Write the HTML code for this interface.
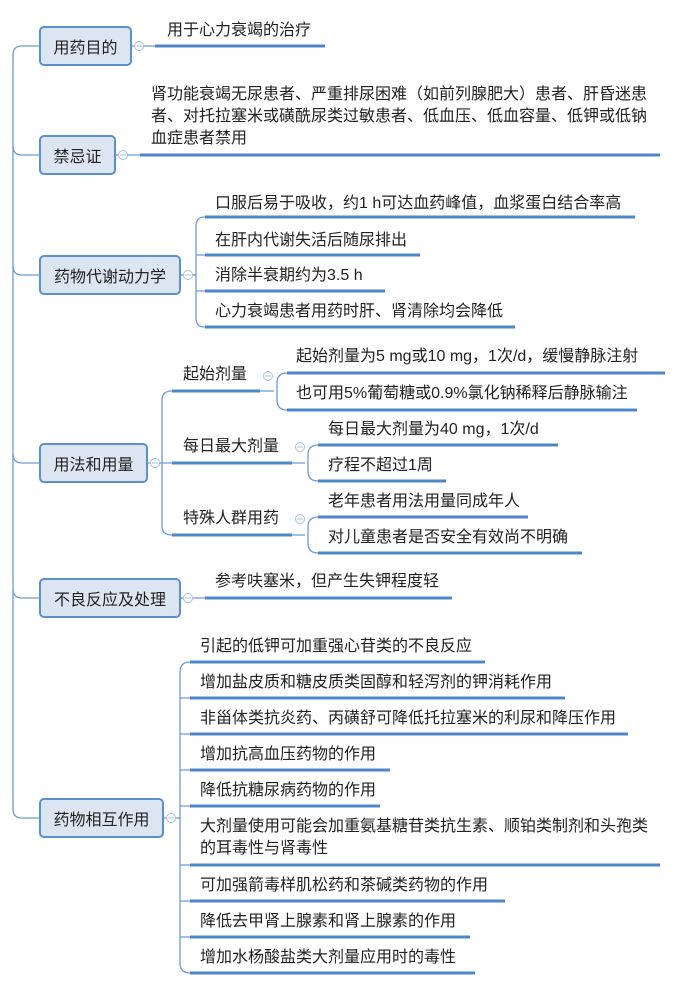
<!DOCTYPE html><html><head><meta charset="utf-8"><style>
body{margin:0;width:680px;height:990px;background:#fff;position:relative;overflow:hidden;font-family:"Liberation Sans","Noto Sans CJK SC",sans-serif;font-size:16px;color:#222}
.b{position:absolute;box-sizing:border-box;background:#dce6f2;border:2px solid #5b8fd0;border-radius:5px;display:flex;align-items:center;justify-content:center;font-size:16px;color:#222}
.t{position:absolute;white-space:nowrap;line-height:22px}
svg{position:absolute;left:0;top:0}
</style></head><body>
<svg width="680" height="990" fill="none">
<g stroke="#6e9bd6" stroke-width="1.3">
<path d="M39 46H22Q13 46 13 55V809Q13 818 22 818H39"/>
<path d="M13 146Q13 155 22 155H39M13 266Q13 275 22 275H39M13 454Q13 463 22 463H39M13 589Q13 598 22 598H39"/>
<path d="M132 46H155M116 155H140M181 275H196M148 463H162M181 598H205M164 818H180"/>
<path d="M205 217Q196 217 196 226V318Q196 327 205 327M196 255H205M196 291H205M196 275H190"/>
<path d="M172 391Q162 391 162 400V526Q162 535 172 535M162 463H172"/>
<path d="M260 391H274M287 373Q277 373 277 383V400Q277 410 287 410"/>
<path d="M292 463H305M318 445Q308 445 308 455V471Q308 481 318 481"/>
<path d="M292 535H305M318 517Q308 517 308 527V543Q308 553 318 553"/>
<path d="M190 662Q180 662 180 672V963Q180 973 190 973M180 698H190M180 734H190M180 770H190M180 806H190M180 865H190M180 901H190M180 937H190"/>
</g>
<g stroke="#4f86c6" stroke-width="3">
<path d="M155 46H325M140 155H660M205 217H635M205 255H420M205 291H385M205 327H515"/>
<path d="M172 391H260M172 463H292M172 535H292M287 373H665M287 410H637M318 445H558M318 481H446M318 517H528M318 553H582"/>
<path d="M205 598H452M190 662H485M190 698H565M190 734H628M190 770H390M190 806H380M190 865H660M190 901H505M190 937H470M190 973H475"/>
</g>
<g stroke="#a8c0e4" stroke-width="1" fill="#fff">
<circle cx="139" cy="46" r="4.5"/><circle cx="123" cy="155" r="4.5"/><circle cx="188" cy="275" r="4.5"/><circle cx="155" cy="463" r="4.5"/><circle cx="188" cy="598" r="4.5"/><circle cx="171" cy="818" r="4.5"/>
<circle cx="268" cy="376" r="4.5"/><circle cx="300" cy="447" r="4.5"/><circle cx="300" cy="519" r="4.5"/>
</g>
<g stroke="#a8c0e4" stroke-width="1">
<path d="M136 46h6M120 155h6M185 275h6M152 463h6M185 598h6M168 818h6M265 376h6M297 447h6M297 519h6"/>
</g>
</svg>
<div class="b" style="left:39px;top:26px;width:93px;height:40px">用药目的</div>
<div class="b" style="left:39px;top:135px;width:77px;height:40px">禁忌证</div>
<div class="b" style="left:39px;top:255px;width:142px;height:40px">药物代谢动力学</div>
<div class="b" style="left:39px;top:443px;width:109px;height:40px">用法和用量</div>
<div class="b" style="left:39px;top:578px;width:142px;height:40px">不良反应及处理</div>
<div class="b" style="left:39px;top:798px;width:125px;height:40px">药物相互作用</div>
<div class="t" style="left:167px;top:20px">用于心力衰竭的治疗</div>
<div class="t" style="left:151px;top:84px">肾功能衰竭无尿患者、严重排尿困难（如前列腺肥大）患者、肝昏迷患<br>者、对托拉塞米或磺酰尿类过敏患者、低血压、低血容量、低钾或低钠<br>血症患者禁用</div>
<div class="t" style="left:215px;top:193px">口服后易于吸收，约1 h可达血药峰值，血浆蛋白结合率高</div>
<div class="t" style="left:215px;top:230px">在肝内代谢失活后随尿排出</div>
<div class="t" style="left:215px;top:265px">消除半衰期约为3.5 h</div>
<div class="t" style="left:215px;top:301px">心力衰竭患者用药时肝、肾清除均会降低</div>
<div class="t" style="left:183px;top:364px">起始剂量</div>
<div class="t" style="left:183px;top:436px">每日最大剂量</div>
<div class="t" style="left:183px;top:508px">特殊人群用药</div>
<div class="t" style="left:296px;top:346px">起始剂量为5 mg或10 mg，1次/d，缓慢静脉注射</div>
<div class="t" style="left:296px;top:383px">也可用5%葡萄糖或0.9%氯化钠稀释后静脉输注</div>
<div class="t" style="left:328px;top:419px">每日最大剂量为40 mg，1次/d</div>
<div class="t" style="left:328px;top:455px">疗程不超过1周</div>
<div class="t" style="left:328px;top:491px">老年患者用法用量同成年人</div>
<div class="t" style="left:328px;top:527px">对儿童患者是否安全有效尚不明确</div>
<div class="t" style="left:215px;top:571px">参考呋塞米，但产生失钾程度轻</div>
<div class="t" style="left:200px;top:636px">引起的低钾可加重强心苷类的不良反应</div>
<div class="t" style="left:200px;top:672px">增加盐皮质和糖皮质类固醇和轻泻剂的钾消耗作用</div>
<div class="t" style="left:200px;top:708px">非甾体类抗炎药、丙磺舒可降低托拉塞米的利尿和降压作用</div>
<div class="t" style="left:200px;top:744px">增加抗高血压药物的作用</div>
<div class="t" style="left:200px;top:780px">降低抗糖尿病药物的作用</div>
<div class="t" style="left:200px;top:816px">大剂量使用可能会加重氨基糖苷类抗生素、顺铂类制剂和头孢类<br>的耳毒性与肾毒性</div>
<div class="t" style="left:200px;top:875px">可加强箭毒样肌松药和茶碱类药物的作用</div>
<div class="t" style="left:200px;top:911px">降低去甲肾上腺素和肾上腺素的作用</div>
<div class="t" style="left:200px;top:947px">增加水杨酸盐类大剂量应用时的毒性</div>
</body></html>
